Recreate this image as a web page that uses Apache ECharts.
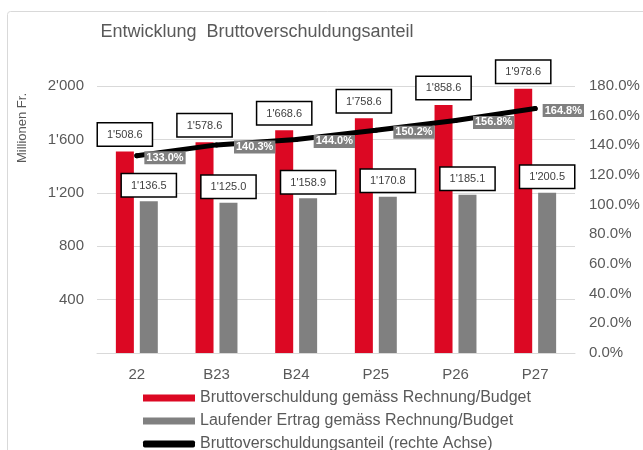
<!DOCTYPE html>
<html>
<head>
<meta charset="utf-8">
<script src="https://cdn.jsdelivr.net/npm/echarts@6/dist/echarts.min.js"></script>
<style>
  html, body { margin: 0; padding: 0; background: #fff; }
  #chart { width: 643px; height: 450px; }
</style>
</head>
<body>
<div id="chart"></div>
<script>
const years = ['22', 'B23', 'B24', 'P25', 'P26', 'P27'];
const grossDebt = [1508.6, 1578.6, 1668.6, 1758.6, 1858.6, 1978.6];
const currentRevenue = [1136.5, 1125.0, 1158.9, 1170.8, 1185.1, 1200.5];
const debtRatio = [133.0, 140.3, 144.0, 150.2, 156.8, 164.8];

const seriesNames = [
  'Bruttoverschuldung gemäss Rechnung/Budget',
  'Laufender Ertrag gemäss Rechnung/Budget',
  'Bruttoverschuldungsanteil (rechte Achse)'
];

const font = 'Liberation Sans, Arial, sans-serif';
const textColor = '#595959';

function swiss(v, digits) {
  const parts = v.toFixed(digits).split('.');
  parts[0] = parts[0].replace(/\B(?=(\d{3})+(?!\d))/g, "'");
  return parts.join('.');
}

const boxLabel = {
  show: true,
  position: 'top',
  distance: 6,
  formatter: p => swiss(p.value, 1),
  fontFamily: font,
  fontSize: 11,
  color: '#404040',
  backgroundColor: '#fff',
  borderColor: '#000',
  borderWidth: 1.5,
  padding: [6, 9, 5, 9]
};

const chart = echarts.init(document.getElementById('chart'));

chart.setOption({
  animation: false,
  textStyle: { fontFamily: font },
  title: {
    text: 'Entwicklung  Bruttoverschuldungsanteil',
    left: 252,
    top: 18,
    textAlign: 'center',
    textStyle: { fontFamily: font, fontSize: 18, fontWeight: 'normal', color: textColor }
  },
  graphic: [
    {
      type: 'rect',
      shape: { x: 7.5, y: 11.5, width: 700, height: 500, r: 3 },
      style: { fill: 'none', stroke: '#d9d9d9', lineWidth: 1 },
      silent: true
    },
    {
      type: 'text',
      x: 22,
      y: 128,
      rotation: Math.PI / 2,
      style: {
        text: 'Millionen Fr.',
        fontFamily: font,
        fontSize: 13,
        fill: textColor,
        align: 'center',
        verticalAlign: 'middle'
      }
    }
  ],
  legend: {
    orient: 'vertical',
    left: 143,
    top: 390,
    height: 120,
    padding: 0,
    itemGap: 7,
    itemWidth: 52,
    itemHeight: 7,
    textStyle: { fontFamily: font, fontSize: 16, color: textColor },
    data: [
      { name: seriesNames[0], icon: 'rect' },
      { name: seriesNames[1], icon: 'rect' },
      { name: seriesNames[2], icon: 'roundRect' }
    ]
  },
  grid: { left: 97, right: 68, top: 86, bottom: 97 },
  xAxis: {
    type: 'category',
    data: years,
    axisLine: { show: true, lineStyle: { color: '#d9d9d9' } },
    axisTick: { show: false },
    axisLabel: { fontFamily: font, fontSize: 15, color: textColor, margin: 14 }
  },
  yAxis: [
    {
      type: 'value',
      min: 0,
      max: 2000,
      interval: 400,
      axisLine: { show: false },
      axisTick: { show: false },
      splitLine: { lineStyle: { color: '#d9d9d9', width: 1 } },
      axisLabel: {
        showMinLabel: false,
        fontFamily: font,
        fontSize: 15,
        color: textColor,
        margin: 13,
        formatter: v => swiss(v, 0)
      }
    },
    {
      type: 'value',
      min: 0,
      max: 180,
      interval: 20,
      axisLine: { show: false },
      axisTick: { show: false },
      splitLine: { show: false },
      axisLabel: {
        fontFamily: font,
        fontSize: 15,
        color: textColor,
        margin: 14,
        formatter: v => v.toFixed(1) + '%'
      }
    }
  ],
  series: [
    {
      name: seriesNames[0],
      type: 'bar',
      data: grossDebt,
      barWidth: 18,
      barGap: '33%',
      itemStyle: { color: '#dc0823' },
      label: boxLabel,
      z: 2
    },
    {
      name: seriesNames[1],
      type: 'bar',
      data: currentRevenue,
      barWidth: 18,
      itemStyle: { color: '#808080' },
      label: Object.assign({}, boxLabel, { distance: 5 }),
      z: 2
    },
    {
      name: seriesNames[2],
      type: 'line',
      yAxisIndex: 1,
      data: debtRatio.map((v, i) => ({
        value: v,
        label: { distance: (i === 0 || i === debtRatio.length - 1) ? 5 : 15 }
      })),
      showSymbol: true,
      symbol: 'circle',
      symbolSize: 5,
      itemStyle: { color: '#000' },
      lineStyle: { color: '#000', width: 5, cap: 'round' },
      label: {
        show: true,
        position: 'right',
        offset: [0, 2],
        formatter: p => p.value.toFixed(1) + '%',
        fontFamily: font,
        fontSize: 11,
        fontWeight: 'bold',
        color: '#fff',
        backgroundColor: '#808080',
        padding: [1, 2, 1, 2]
      },
      z: 5
    }
  ]
});
</script>
</body>
</html>
